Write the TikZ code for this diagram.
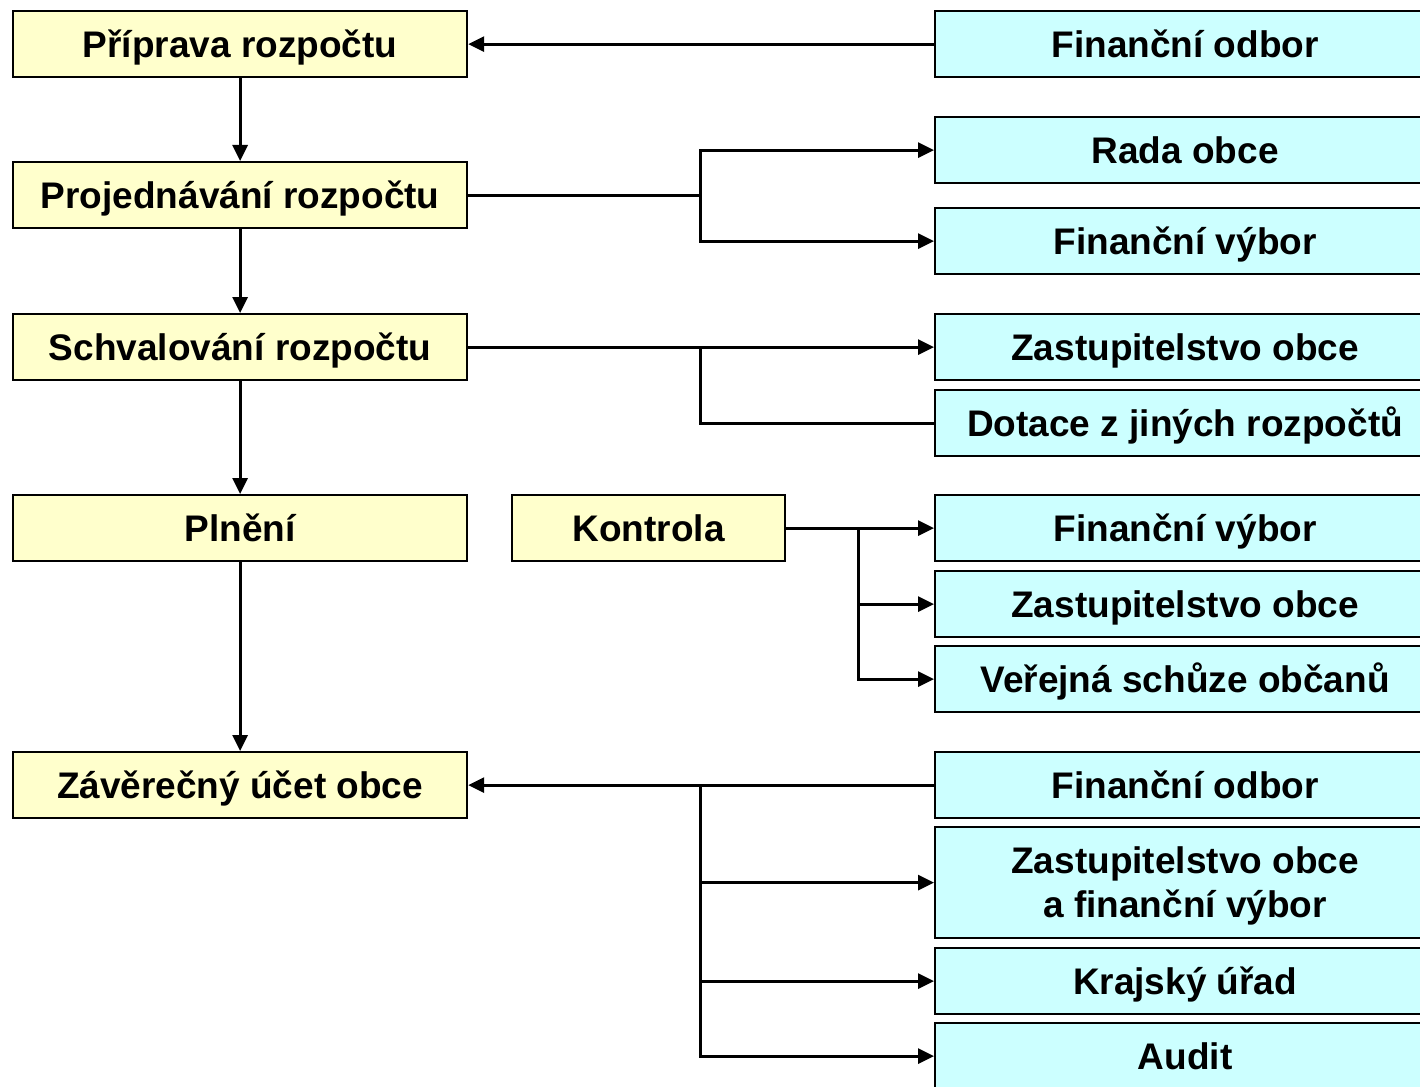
\documentclass[tikz,border=0pt]{standalone}
\usepackage{fontspec}
\setmainfont{Liberation Sans}
\usetikzlibrary{arrows.meta}
\definecolor{ylw}{HTML}{FFFFCC}
\definecolor{cyn}{HTML}{CCFFFF}
\tikzset{
  box/.style={draw=black, line width=2.2pt, anchor=north west, inner sep=0pt, align=center,
    text height=26.5pt, text depth=0pt,
    font=\fontsize{37}{44}\selectfont\bfseries},
  ybox/.style={box, fill=ylw, minimum width=454pt, minimum height=66pt},
  cbox/.style={box, fill=cyn, minimum width=500pt, minimum height=66pt},
  conn/.style={line width=3pt, draw=black},
  arr/.style={conn, -{Triangle[length=16pt,width=15pt]}},
}
\begin{document}
\begin{tikzpicture}[x=1pt,y=-1pt]
\useasboundingbox[fill=white] (0,0) rectangle (1420,1086);
% left column
\node[ybox] (p1) at (12,10) {Příprava rozpočtu};
\node[ybox] (p2) at (12,161) {Projednávání rozpočtu};
\node[ybox] (p3) at (12,313) {Schvalování rozpočtu};
\node[ybox] (p4) at (12,494) {Plnění};
\node[ybox] (p5) at (12,751) {Závěrečný účet obce};
\node[ybox, minimum width=273pt] (kon) at (511,494) {Kontrola};
% right column
\node[cbox] (r1) at (934,10) {Finanční odbor};
\node[cbox] (r2) at (934,116) {Rada obce};
\node[cbox] (r3) at (934,207) {Finanční výbor};
\node[cbox] (r4) at (934,313) {Zastupitelstvo obce};
\node[cbox] (r5) at (934,389) {Dotace z jiných rozpočtů};
\node[cbox] (r6) at (934,494) {Finanční výbor};
\node[cbox] (r7) at (934,570) {Zastupitelstvo obce};
\node[cbox] (r8) at (934,645) {Veřejná schůze občanů};
\node[cbox] (r9) at (934,751) {Finanční odbor};
\node[cbox, minimum height=111pt, text height=70.5pt, text depth=0pt] (r10) at (934,826) {Zastupitelstvo obce\\a finanční výbor};
\node[cbox] (r11) at (934,947) {Krajský úřad};
\node[cbox] (r12) at (934,1022) {Audit};
% junctions
\coordinate (j1) at (p2.east -| 700,0);
\coordinate (j2) at (p3.east -| 700,0);
\coordinate (j3) at (kon.east -| 858,0);
\coordinate (j4) at (p5.east -| 700,0);
% connectors
\draw[arr] (r1.west) -- (p1.east);
\draw[arr] (p1.south) -- (p2.north);
\draw[arr] (p2.south) -- (p3.north);
\draw[arr] (p3.south) -- (p4.north);
\draw[arr] (p4.south) -- (p5.north);
\draw[conn] (p2.east) -- (j1);
\draw[arr] (j1) |- (r2.west);
\draw[arr] (j1) |- (r3.west);
\draw[arr] (p3.east) -- (r4.west);
\draw[conn] (r5.west) -| (j2);
\draw[arr] (kon.east) -- (r6.west);
\draw[arr] (j3) |- (r7.west);
\draw[arr] (j3) |- (r8.west);
\draw[arr] (r9.west) -- (p5.east);
\draw[arr] (j4) |- (r10.west);
\draw[arr] (j4) |- (r11.west);
\draw[arr] (j4) |- (r12.west);
\end{tikzpicture}
\end{document}
